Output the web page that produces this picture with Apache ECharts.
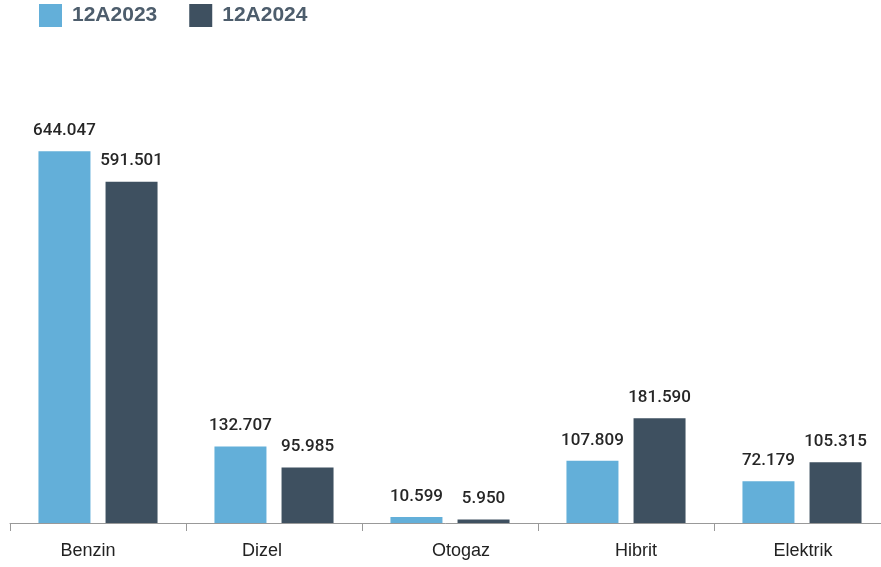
<!DOCTYPE html>
<html>
<head>
<meta charset="utf-8">
<script src="https://cdn.jsdelivr.net/npm/echarts@6/dist/echarts.min.js"></script>
<style>
html,body{margin:0;padding:0;background:#fff;}
#chart{width:881px;height:567px;}
</style>
</head>
<body>
<div id="chart"></div>
<script>
var categories = ['Benzin', 'Dizel', 'Otogaz', 'Hibrit', 'Elektrik'];
var seriesNames = ['12A2023', '12A2024'];
var values2023 = [644047, 132707, 10599, 107809, 72179];
var values2024 = [591501, 95985, 5950, 181590, 105315];
var colors = ['#63afd9', '#3e5060'];

// 644.047 gibi nokta ile binlik ayırma
function fmt(v) {
	return String(v).replace(/\B(?=(\d{3})+(?!\d))/g, '.');
}

// kategori yazılarının orijinaldeki hafif kaymaları
var labelStyle = { fontFamily: 'Liberation Sans', fontSize: 18, color: '#222' };
var richLabels = {
	l10: Object.assign({ padding: [0, 20, 0, 0] }, labelStyle),
	l12: Object.assign({ padding: [0, 24, 0, 0] }, labelStyle),
	r11: Object.assign({ padding: [0, 0, 0, 22] }, labelStyle),
	r10: Object.assign({ padding: [0, 0, 0, 20] }, labelStyle),
	c: Object.assign({ padding: [0, 0, 0, 2] }, labelStyle)
};
var labelKeys = ['l10', 'l12', 'r11', 'r10', 'c'];

var option = {
	animation: false,
	color: colors,
	legend: {
		left: 39,
		top: 4,
		padding: 0,
		itemWidth: 23,
		itemHeight: 23,
		itemGap: 32,
		icon: 'rect',
		textStyle: {
			fontFamily: 'Liberation Sans',
			fontSize: 21,
			fontWeight: 'bold',
			color: '#4d5d6c',
			padding: [0, 0, 0, 5]
		},
		data: seriesNames
	},
	grid: {
		left: 10,
		width: 880,
		top: 40,
		bottom: 44,
		outerBoundsMode: 'none',
		containLabel: false
	},
	xAxis: {
		type: 'category',
		data: categories,
		axisLine: { lineStyle: { color: '#999', width: 1 } },
		axisTick: { show: true, length: 8, lineStyle: { color: '#999' } },
		axisLabel: {
			margin: 19,
			fontFamily: 'Liberation Sans',
			fontSize: 18,
			color: '#222',
			formatter: function(value, idx) {
				return '{' + labelKeys[idx] + '|' + value + '}';
			},
			rich: richLabels
		}
	},
	yAxis: {
		type: 'value',
		min: 0,
		max: 837000,
		show: false,
		splitLine: { show: false }
	},
	series: [{
		name: seriesNames[0],
		type: 'bar',
		data: values2023,
		barWidth: 52,
		barGap: '29%',
		label: {
			show: true,
			position: 'top',
			distance: 12,
			fontFamily: 'Roboto',
			fontSize: 17,
			fontWeight: 500,
			color: '#262626',
			formatter: function(p) { return fmt(p.value); }
		}
	}, {
		name: seriesNames[1],
		type: 'bar',
		data: values2024,
		barWidth: 52,
		label: {
			show: true,
			position: 'top',
			distance: 12,
			fontFamily: 'Roboto',
			fontSize: 17,
			fontWeight: 500,
			color: '#262626',
			formatter: function(p) { return fmt(p.value); }
		}
	}]
};

var myChart = echarts.init(document.getElementById('chart'));
myChart.setOption(option);
</script>
</body>
</html>
